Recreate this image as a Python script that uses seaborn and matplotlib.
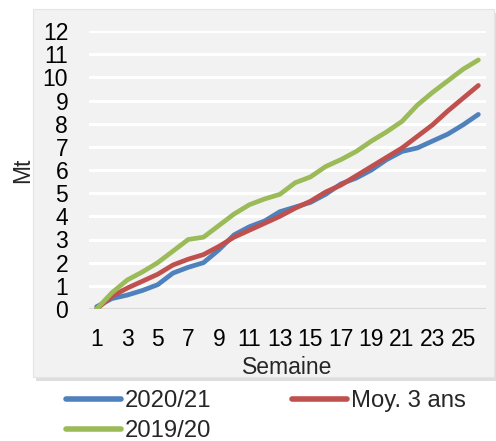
import matplotlib
matplotlib.use("Agg")
import matplotlib.pyplot as plt
from matplotlib.patches import Rectangle
from matplotlib.lines import Line2D
import seaborn as sns
import pandas as pd

weeks = list(range(1, 27))
s2020_21 = [0.1, 0.45, 0.6, 0.8, 1.05, 1.55, 1.8, 2.0, 2.55, 3.2, 3.55, 3.8, 4.2,
            4.4, 4.6, 4.95, 5.4, 5.65, 6.0, 6.45, 6.8, 6.95, 7.25, 7.55, 7.95, 8.4]
moy3 = [0.0, 0.55, 0.9, 1.2, 1.5, 1.9, 2.15, 2.35, 2.7, 3.1, 3.4, 3.7, 4.0,
        4.35, 4.65, 5.05, 5.35, 5.75, 6.15, 6.55, 6.95, 7.45, 7.95, 8.55, 9.1, 9.65]
s2019_20 = [0.0, 0.7, 1.25, 1.6, 2.0, 2.5, 3.0, 3.1, 3.6, 4.1, 4.5, 4.75, 4.95,
            5.45, 5.7, 6.15, 6.45, 6.8, 7.25, 7.65, 8.1, 8.8, 9.35, 9.85, 10.35, 10.75]
series_names = ["2020/21", "Moy. 3 ans", "2019/20"]
colors = {"2020/21": "#4F81BD", "Moy. 3 ans": "#C0504D", "2019/20": "#9BBB59"}
xtick_labels = [str(w) for w in range(1, 26, 2)]
yticks = list(range(0, 13))

df = pd.concat([
    pd.DataFrame({"Semaine": weeks, "Mt": vals, "serie": name})
    for name, vals in zip(series_names, [s2020_21, moy3, s2019_20])
])

sns.set_theme(style="white")
plt.rcParams['font.family'] = ['Liberation Sans', 'DejaVu Sans']
FS = 16.5

W, H = 496, 441
fig = plt.figure(figsize=(W / 100, H / 100), dpi=100)
fig.patch.set_facecolor("white")

# chart area box with shadow
bx0, by0, bx1, by1 = 33, 9, 494, 377
fig.patches.append(Rectangle(((bx0 + 3) / W, 1 - (by1 + 4) / H), (bx1 - bx0) / W, (by1 - by0) / H,
                             transform=fig.transFigure, facecolor="#c8c8c8", edgecolor="none",
                             alpha=0.6, zorder=0))
fig.patches.append(Rectangle((bx0 / W, 1 - by1 / H), (bx1 - bx0) / W, (by1 - by0) / H,
                             transform=fig.transFigure, facecolor="#f2f2f2", edgecolor="#e4e4e4",
                             linewidth=0.8, zorder=1))

ax_l, ax_r, ax_t, ax_b = 89, 486, 31, 309
ax = fig.add_axes([ax_l / W, 1 - ax_b / H, (ax_r - ax_l) / W, (ax_b - ax_t) / H])
ax.set_facecolor("#f2f2f2")
ax.set_zorder(2)

sns.lineplot(data=df, x="Semaine", y="Mt", hue="serie", palette=colors,
             hue_order=series_names, linewidth=3.4, ax=ax, legend=False,
             solid_capstyle="round", solid_joinstyle="round")
for ln in ax.lines:
    ln.set_zorder(3)

ax.set_xlim(0.5, 26.5)
ax.set_ylim(0, 12)
ax.set_xticks(range(1, 26, 2))
ax.set_xticklabels(xtick_labels)
ax.set_yticks(yticks)
for y in yticks[1:]:
    ax.axhline(y, color="white", linewidth=2.2, zorder=1)
ax.axhline(0, color="#d9d9d9", linewidth=1.5, zorder=1)
for s in ax.spines.values():
    s.set_visible(False)
ax.tick_params(axis="both", length=0, labelsize=FS, colors="black")
ax.tick_params(axis="x", pad=14)
ax.tick_params(axis="y", pad=15)
ax.set_xlabel("Semaine", fontsize=FS, labelpad=3)
ax.set_ylabel("Mt", fontsize=FS, labelpad=6)

handles = [Line2D([], [], color=colors[n], linewidth=4, solid_capstyle="round") for n in series_names]
order = [0, 2, 1]
fig.legend([handles[i] for i in order], [series_names[i] for i in order],
           loc="upper left", bbox_to_anchor=(66 / W, 1 - 390 / H), ncol=2,
           frameon=False, fontsize=17.2, handlelength=2.3, handletextpad=0.15,
           columnspacing=3.4, labelspacing=0.34, borderaxespad=0, borderpad=0)

fig.savefig("out.png", dpi=100, facecolor="white")
